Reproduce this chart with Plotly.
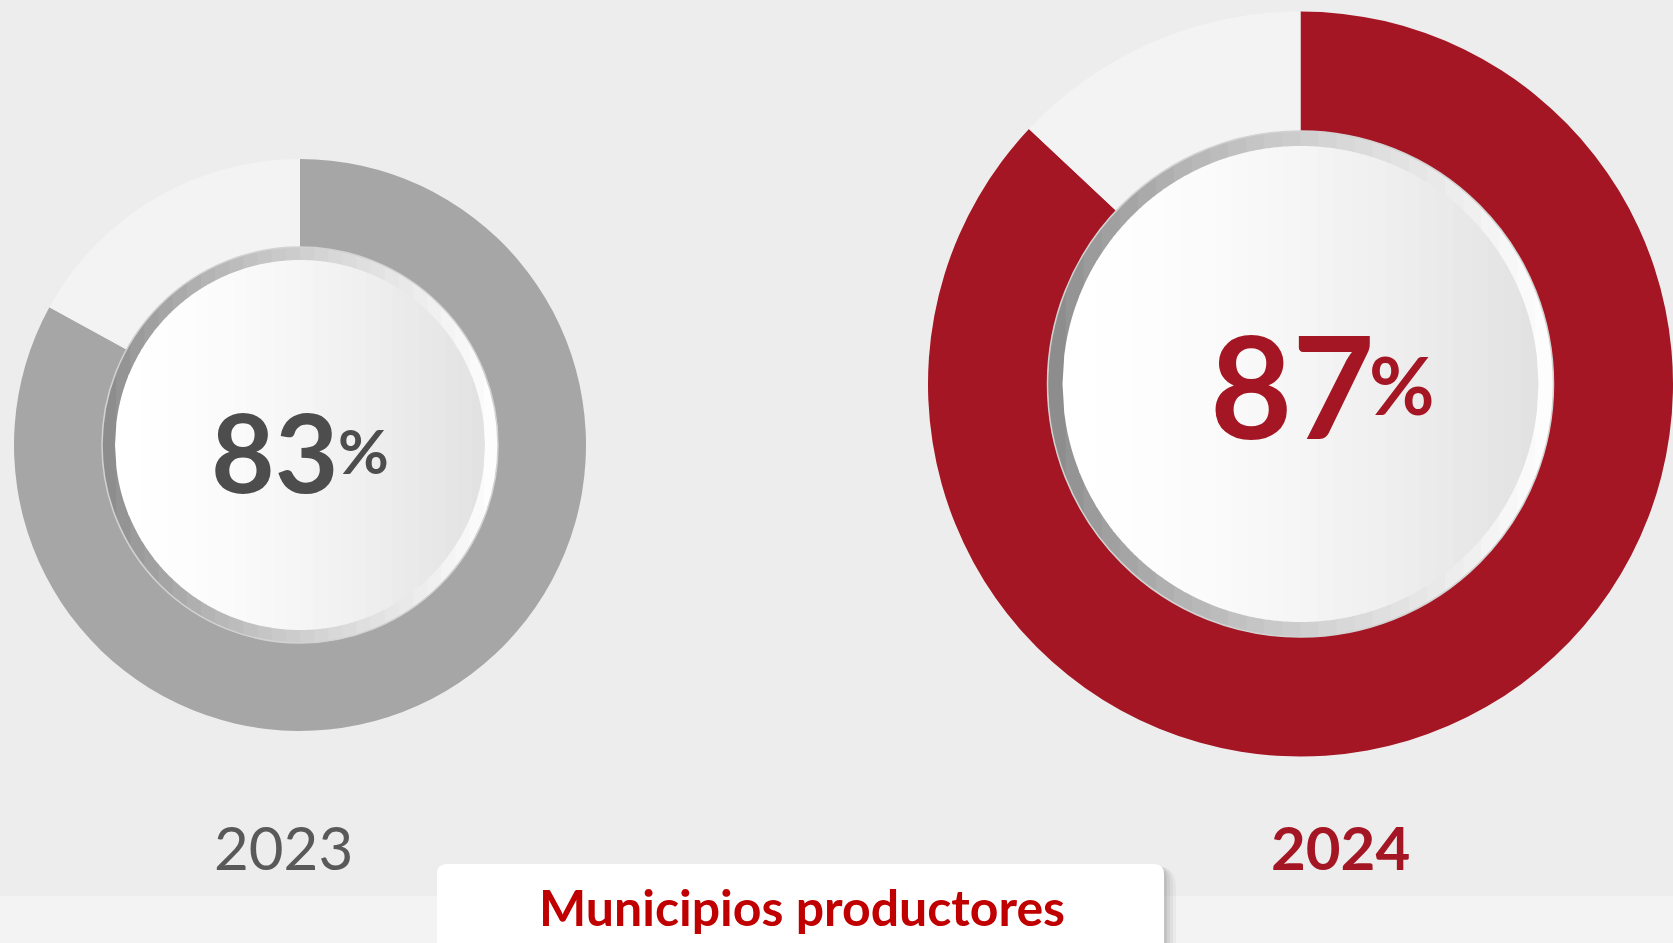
import math
import plotly.graph_objects as go

# ---------------- data ----------------
years = ["2023", "2024"]
shares = [83, 87]            # % municipios productores
ring_colors = ["#a6a6a6", "#a51624"]
text_colors = ["#4d4d4d", "#a51624"]
year_colors = ["#595959", "#a51624"]
year_bold = [False, True]
rest_color = "#f3f3f3"
title_text = "Municipios productores"

# ---------------- geometry (pixels) ----------------
W, H = 1673, 943
BG = "#ededed"
FONT = "Lato, 'Open Sans', sans-serif"

pies = [
    dict(cx=300, cy=445, r=286, hole_r=198, disk_r=185,
         num_x=275, pct_x=363, txt_y=450, num_size=110, pct_size=62,
         year_x=283, year_y=847),
    dict(cx=1300.5, cy=384, r=372.5, hole_r=253, disk_r=238,
         num_x=1292, pct_x=1402, txt_y=384, num_size=142, pct_size=80,
         year_x=1340, year_y=847),
]


def px(x):
    return x / W


def py(y):
    return 1 - y / H


def P(x, y):
    return f"{px(x):.5f},{py(y):.5f}"


def slice_path(cx, cy, r, xa, xb, n=10):
    top = []
    for i in range(n + 1):
        x = xa + (xb - xa) * i / n
        dy = math.sqrt(max(r * r - (x - cx) ** 2, 0.0))
        top.append((x, cy - dy))
    bot = [(x, 2 * cy - y) for x, y in reversed(top)]
    pts = top + bot
    return "M" + " L".join(P(*p) for p in pts) + " Z"


def gradient_disk(cx, cy, r, vfun, nslices=28):
    shapes = []
    for k in range(nslices):
        xa = cx - r + 2 * r * k / nslices
        xb = cx - r + 2 * r * (k + 1) / nslices + 0.8
        xb = min(xb, cx + r)
        t = (k + 0.5) / nslices
        v = int(round(vfun(t)))
        col = f"rgb({v},{v},{v})"
        shapes.append(dict(type="path", xref="paper", yref="paper",
                           path=slice_path(cx, cy, r, xa, xb),
                           fillcolor=col, line=dict(width=0), layer="above"))
    return shapes


fig = go.Figure()
shapes = []
annotations = []

# bottom strip
shapes.append(dict(type="rect", xref="paper", yref="paper",
                   x0=0, x1=1, y0=0, y1=py(896),
                   fillcolor="#f3f3f3", line=dict(width=0), layer="below"))

for i, g in enumerate(pies):
    cx, cy, r = g["cx"], g["cy"], g["r"]
    fig.add_trace(go.Pie(
        values=[shares[i], 100 - shares[i]],
        labels=[years[i], "resto"],
        marker=dict(colors=[ring_colors[i], rest_color], line=dict(width=0)),
        hole=g["hole_r"] / r,
        sort=False, direction="clockwise", rotation=0,
        textinfo="none", hoverinfo="skip", showlegend=False,
        domain=dict(x=[max(0, px(cx - r)), min(1, px(cx + r))],
                    y=[max(0, (H - cy - r) / H), min(1, (H - cy + r) / H)]),
    ))
    # bezel (dark left -> white right)
    shapes += gradient_disk(cx, cy, g["hole_r"],
                            lambda t: 135 + 120 * (t ** 0.75))
    shapes.append(dict(type="circle", xref="paper", yref="paper",
                       x0=px(cx - g["hole_r"]), x1=px(cx + g["hole_r"]),
                       y0=py(cy + g["hole_r"]), y1=py(cy - g["hole_r"]),
                       line=dict(color="#d2d2d2", width=1.5), layer="above"))
    # inner disk (white -> light gray)
    shapes += gradient_disk(cx, cy, g["disk_r"],
                            lambda t: 255 - 30 * (t ** 1.6))
    # number + percent
    annotations.append(dict(xref="paper", yref="paper",
                            x=px(g["num_x"]), y=py(g["txt_y"]),
                            xanchor="center", yanchor="middle",
                            text=f"<b>{shares[i]}</b>", showarrow=False,
                            font=dict(family=FONT, size=g["num_size"],
                                      color=text_colors[i])))
    annotations.append(dict(xref="paper", yref="paper",
                            x=px(g["pct_x"]), y=py(g["txt_y"]),
                            xanchor="center", yanchor="middle",
                            text="<b>%</b>", showarrow=False,
                            font=dict(family=FONT, size=g["pct_size"],
                                      color=text_colors[i])))
    ytxt = f"<b>{years[i]}</b>" if year_bold[i] else years[i]
    annotations.append(dict(xref="paper", yref="paper",
                            x=px(g["year_x"]), y=py(g["year_y"]),
                            xanchor="center", yanchor="middle",
                            text=ytxt, showarrow=False,
                            font=dict(family=FONT, size=60,
                                      color=year_colors[i])))

# title box with soft shadow (mostly to the right)
bx0, bx1, by0, by1, rad = 437, 1164, 864, 975, 10


def rounded_rect(x0, x1, y0, y1, rr):
    return ("M" + P(x0 + rr, y0) + " L" + P(x1 - rr, y0) +
            " Q" + P(x1, y0) + " " + P(x1, y0 + rr) +
            " L" + P(x1, y1 - rr) +
            " Q" + P(x1, y1) + " " + P(x1 - rr, y1) +
            " L" + P(x0 + rr, y1) +
            " Q" + P(x0, y1) + " " + P(x0, y1 - rr) +
            " L" + P(x0, y0 + rr) +
            " Q" + P(x0, y0) + " " + P(x0 + rr, y0) + " Z")


for k, op in enumerate([0.035, 0.045, 0.055, 0.07]):
    d = 12 - 3 * k
    shapes.append(dict(type="path", xref="paper", yref="paper",
                       path=rounded_rect(bx0 + 4, bx1 + d, by0 + 3 - d * 0.15,
                                         by1, rad + d),
                       fillcolor=f"rgba(0,0,0,{op})", line=dict(width=0),
                       layer="above"))
shapes.append(dict(type="path", xref="paper", yref="paper",
                   path=rounded_rect(bx0, bx1, by0, by1, rad),
                   fillcolor="#ffffff", line=dict(width=0), layer="above"))
annotations.append(dict(xref="paper", yref="paper",
                        x=px(802), y=py(907), xanchor="center", yanchor="middle",
                        text=f"<b>{title_text}</b>", showarrow=False,
                        font=dict(family=FONT, size=50, color="#c00000")))

fig.update_layout(
    width=W, height=H, autosize=False,
    margin=dict(l=0, r=0, t=0, b=0),
    paper_bgcolor=BG, plot_bgcolor=BG,
    shapes=shapes, annotations=annotations,
    showlegend=False,
)

fig.write_html("out.html", config=dict(displayModeBar=False),
               post_script="document.body.style.margin='0';"
                           "document.body.style.overflow='hidden';")
